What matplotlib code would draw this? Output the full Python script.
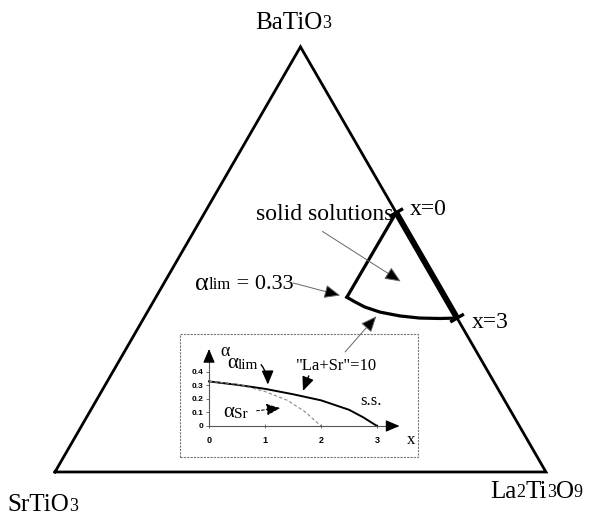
import numpy as np
import matplotlib
matplotlib.use("Agg")
import matplotlib.pyplot as plt
from matplotlib.patches import Rectangle

plt.rcParams["font.family"] = ["Liberation Serif", "DejaVu Serif"]

# End members: compositions are given as (SrTiO3, BaTiO3, La2Ti3O9) fractions
vertex_names = ["SrTiO3", "BaTiO3", "La2Ti3O9"]

# Solid-solution limits on the BaTiO3 - La2Ti3O9 join
x0_comp = [0.0, 0.610, 0.390]      # x = 0
x3_comp = [0.0, 0.362, 0.638]      # x = 3
alim_comp = [0.200, 0.411, 0.389]  # alpha_lim = 0.33 at x = 0

# "La+Sr" = 10 boundary running from alpha_lim corner to x = 3
curve_sr = [0.200, 0.189, 0.175, 0.150, 0.114, 0.076, 0.035, 0.000]
curve_ba = [0.411, 0.400, 0.388, 0.376, 0.367, 0.362, 0.361, 0.362]
curve_la = [0.389, 0.411, 0.437, 0.474, 0.519, 0.562, 0.604, 0.638]

# Inset: alpha versus x
x_lim = [0, 0.5, 1.0, 1.5, 2.0, 2.5, 2.75, 3.0]
alpha_lim = [0.33, 0.305, 0.275, 0.235, 0.19, 0.12, 0.065, 0.0]
x_sr = [0, 0.5, 1.0, 1.4, 1.7, 2.0]
alpha_sr = [0.33, 0.31, 0.255, 0.19, 0.11, 0.0]
inset_xticks = [0, 1, 2, 3]
inset_yticks = [0, 0.1, 0.2, 0.3, 0.4]
inset_yticklabels = ["0", "0.1", "0.2", "0.3", "0.4"]

SQ3 = np.sqrt(3) / 2
DESCENT = 0.217  # descent of the serif face, as a fraction of the font size


def tern(sr, ba, la):
    sr, ba, la = (np.asarray(v, dtype=float) for v in (sr, ba, la))
    tot = sr + ba + la
    return (la + ba / 2) / tot, ba * SQ3 / tot


def rich(ax, x, y, pieces, transform=None, **kw):
    """Write text pieces of differing size one after another on one baseline."""
    s0, f0 = pieces[0]
    t = ax.text(x, y, s0, fontsize=f0, ha="left", va="baseline",
                transform=transform if transform is not None else ax.transData, **kw)
    prev, fprev = t, f0
    for s, f in pieces[1:]:
        prev = ax.annotate(s, xy=(1, 0), xycoords=prev, fontsize=f,
                           xytext=(0, DESCENT * (fprev - f)), textcoords="offset points",
                           ha="left", va="bottom", **kw)
        fprev = f
    return t


fig = plt.figure(figsize=(5.97, 5.15), dpi=100)
ax = fig.add_axes([0, 0, 1, 1])
ax.set_xlim(-0.112, 1.104)
ax.set_ylim(-0.0876, 0.9613)
ax.set_aspect("equal")
ax.axis("off")

# Triangle
vx, vy = tern([1, 0, 0, 1], [0, 1, 0, 0], [0, 0, 1, 0])
ax.plot(vx, vy, color="black", lw=2.0, solid_joinstyle="miter")

# Solid-solution region
p0 = tern(*x0_comp)
p3 = tern(*x3_comp)
pc = tern(*alim_comp)
ax.plot([p0[0], p3[0]], [p0[1], p3[1]], color="black", lw=4.3, solid_capstyle="butt")
ax.plot([p0[0], pc[0]], [p0[1], pc[1]], color="black", lw=2.3)
cx, cy = tern(curve_sr, curve_ba, curve_la)
ax.plot(cx, cy, color="black", lw=2.3)

# Tick marks across the join at x = 0 and x = 3
edge = np.array(tern(0, 0, 1)) - np.array(tern(0, 1, 0))
normal = np.array([edge[1], -edge[0]]) / np.hypot(*edge)
tick_half = 0.016
for p in (p0, p3):
    a = np.array(p) - tick_half * normal
    b = np.array(p) + tick_half * normal
    ax.plot([a[0], b[0]], [a[1], b[1]], color="black", lw=2.4, solid_capstyle="butt")

# Vertex labels
top = tern(0, 1, 0)
left = tern(1, 0, 0)
right = tern(0, 0, 1)
rich(ax, top[0] - 0.093, top[1] + 0.037, [("BaTiO", 18), ("3", 13)])
rich(ax, left[0] - 0.096, left[1] - 0.080, [("SrTiO", 18), ("3", 13)])
rich(ax, right[0] - 0.114, right[1] - 0.053,
     [("La", 18), ("2", 13), ("Ti", 18), ("3", 13), ("O", 18), ("9", 13)])

# Labels on the join
ax.annotate("x=0", xy=p0, xytext=(14, -2), textcoords="offset pixels",
            fontsize=17, ha="left", va="baseline")
ax.annotate("x=3", xy=p3, xytext=(15, -10), textcoords="offset pixels",
            fontsize=17, ha="left", va="baseline")

head = dict(arrowstyle="-|>,head_length=0.7,head_width=0.3", mutation_scale=14,
            edgecolor="#666666", facecolor="black", lw=0.7)

ax.text(0.550, 0.513, "solid solutions", fontsize=17, ha="center", va="baseline")
ax.annotate("", xy=(0.709, 0.385), xytext=(0.540, 0.493), arrowprops=head)

rich(ax, 0.285, 0.371, [("\u03b1", 19), ("lim", 12), (" = 0.33", 16)])
ax.annotate("", xy=pc, xytext=(0.485, 0.385),
            arrowprops=dict(head, shrinkA=0, shrinkB=5))

# Inset
L, B, W, H = 180 / 597, (515 - 457) / 515, 238 / 597, 123 / 515
axin = fig.add_axes([L, B, W, H])
axin.set_facecolor("white")
axin.set_xlim(-0.518, 3.732)
axin.set_ylim(-0.2296, 0.681)
axin.add_patch(Rectangle((0, 0), 1, 1, transform=axin.transAxes, fill=False,
                         ec="#777777", lw=0.8, ls=(0, (2, 1)), clip_on=False))
for s in ("top", "right"):
    axin.spines[s].set_visible(False)
for s in ("left", "bottom"):
    axin.spines[s].set_position(("data", 0))
    axin.spines[s].set_color("#555555")
    axin.spines[s].set_linewidth(0.8)
    axin.spines[s].set_linestyle((0, (2, 1)))
axin.spines["left"].set_bounds(0, 0.56)
axin.spines["bottom"].set_bounds(0, 3.35)
axin.annotate("", xy=(0, 0.59), xytext=(0, 0.50),
              arrowprops=dict(arrowstyle="-|>,head_length=0.7,head_width=0.3",
                              mutation_scale=12, color="black", lw=0.8))
axin.annotate("", xy=(3.45, 0), xytext=(3.25, 0),
              arrowprops=dict(arrowstyle="-|>,head_length=0.7,head_width=0.3",
                              mutation_scale=12, color="black", lw=0.8))
axin.set_xticks(inset_xticks)
axin.set_xticklabels([str(v) for v in inset_xticks], fontsize=6.5,
                     fontweight="bold", family="Liberation Sans")
axin.set_yticks(inset_yticks)
axin.set_yticklabels(inset_yticklabels, fontsize=6, fontweight="bold",
                     family="Liberation Sans")
axin.tick_params(axis="x", direction="inout", length=3, width=0.6, color="#555555", pad=6)
axin.tick_params(axis="y", direction="out", length=2, width=0.6, color="#555555", pad=2)

axin.plot(x_lim, alpha_lim, color="black", lw=1.4)
axin.plot(x_sr, alpha_sr, color="#888888", lw=0.8, ls=(0, (3, 2)))

axin.text(0.2, 0.555, "\u03b1", fontsize=13, ha="left", va="center")
axin.text(3.54, -0.104, "x", fontsize=12, ha="left", va="center")

rich(axin, 0.32, 0.43, [("\u03b1", 15), ("lim", 11)])
rich(axin, 0.25, 0.067, [("\u03b1", 15), ("Sr", 11)])
axin.text(2.27, 0.415, "\"La+Sr\"=10", fontsize=12, ha="center", va="baseline")
axin.text(2.70, 0.156, "s.s.", fontsize=12, ha="left", va="baseline")

ihead = dict(arrowstyle="-|>,head_length=0.7,head_width=0.3", mutation_scale=12,
             color="black", lw=1.0)
axin.annotate("", xy=(1.05, float(np.interp(1.05, x_lim, alpha_lim)) + 0.015),
              xytext=(0.90, 0.47),
              arrowprops=dict(ihead, connectionstyle="arc3,rad=-0.2"))
axin.annotate("", xy=(1.32, 0.135), xytext=(0.80, 0.11),
              arrowprops=dict(ihead, edgecolor="#666666", facecolor="black",
                              lw=0.7, ls=(0, (3, 2))))
axin.annotate("", xy=(1.66, float(np.interp(1.66, x_lim, alpha_lim)) + 0.02),
              xytext=(1.80, 0.39), arrowprops=ihead)

# Pointer from the inset label up to the "La+Sr" = 10 boundary
axin.annotate("", xy=(cx[3], cy[3]), xycoords=ax.transData,
              xytext=(2.43, 0.548), textcoords="data",
              arrowprops=dict(head, shrinkA=0, shrinkB=4), annotation_clip=False)

fig.savefig("out.png", dpi=100)
